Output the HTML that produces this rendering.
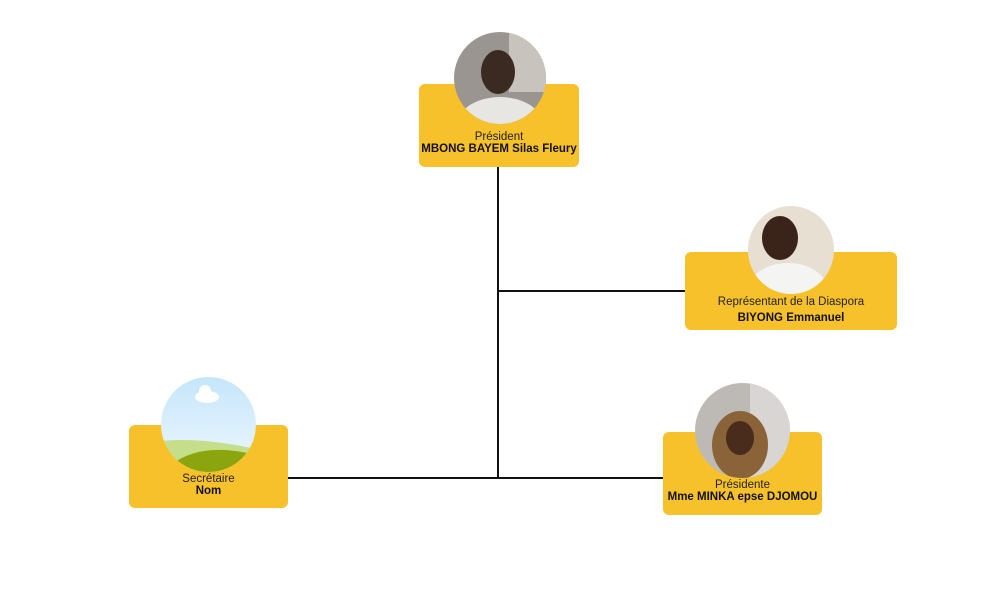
<!DOCTYPE html>
<html><head><meta charset="utf-8"><style>
html,body{margin:0;padding:0;background:#fff;width:1000px;height:600px;overflow:hidden;font-family:"Liberation Sans",sans-serif}
.box{position:absolute;background:#F7C12B;border-radius:6px}
.c{position:absolute;border-radius:50%;overflow:hidden}
.t{position:absolute;text-align:center;font-size:11.5px;color:#222;white-space:nowrap;line-height:12px}
.t b{color:#111}
.ln{position:absolute;background:#111}
</style></head><body>
<div class="ln" style="left:497px;top:167px;width:2px;height:312px"></div>
<div class="ln" style="left:498px;top:290px;width:187px;height:2px"></div>
<div class="ln" style="left:288px;top:477px;width:375px;height:2px"></div>

<div class="box" style="left:419px;top:84px;width:160px;height:83px"></div>
<div class="c" style="left:454px;top:32px;width:92px;height:92px">
<svg width="92" height="92"><rect width="92" height="92" fill="#9a9590"/><rect x="55" width="37" height="60" fill="#c9c3bd"/><ellipse cx="44" cy="40" rx="17" ry="22" fill="#3b2a22"/><ellipse cx="46" cy="95" rx="44" ry="30" fill="#e8e6e2"/></svg></div>
<div class="t" style="left:419px;top:131px;width:160px">Président<br><b>MBONG BAYEM Silas Fleury</b></div>

<div class="box" style="left:685px;top:252px;width:212px;height:78px"></div>
<div class="c" style="left:748px;top:206px;width:86px;height:88px">
<svg width="86" height="88"><rect width="86" height="88" fill="#e6dfd2"/><ellipse cx="32" cy="32" rx="18" ry="22" fill="#3a2419"/><ellipse cx="40" cy="85" rx="40" ry="28" fill="#f4f4f2"/></svg></div>
<div class="t" style="left:685px;top:296px;width:212px">Représentant de la Diaspora</div>
<div class="t" style="left:685px;top:312px;width:212px"><b>BIYONG Emmanuel</b></div>

<div class="box" style="left:663px;top:432px;width:159px;height:83px"></div>
<div class="c" style="left:695px;top:383px;width:95px;height:95px">
<svg width="95" height="95"><rect width="95" height="95" fill="#bdb9b5"/><rect x="55" width="40" height="95" fill="#d8d5d2"/><ellipse cx="45" cy="62" rx="28" ry="34" fill="#8a6438"/><ellipse cx="45" cy="55" rx="14" ry="17" fill="#4a2c1d"/></svg></div>
<div class="t" style="left:663px;top:479px;width:159px">Présidente<br><b>Mme MINKA epse DJOMOU</b></div>

<div class="box" style="left:129px;top:425px;width:159px;height:83px"></div>
<div class="c" style="left:161px;top:377px;width:95px;height:95px">
<svg width="95" height="95"><defs><linearGradient id="s" x1="0" y1="0" x2="0" y2="1"><stop offset="0" stop-color="#c5e6fb"/><stop offset="1" stop-color="#eef7fc"/></linearGradient></defs><rect width="95" height="95" fill="url(#s)"/><ellipse cx="46" cy="20" rx="12" ry="6" fill="#fff"/><circle cx="44" cy="14" r="6" fill="#fff"/><path d="M0 64 Q40 60 95 72 L95 95 L0 95Z" fill="#c5de8a"/><path d="M10 88 Q40 64 95 78 L95 95 L10 95Z" fill="#8aa50e"/></svg></div>
<div class="t" style="left:129px;top:473px;width:159px">Secrétaire<br><b>Nom</b></div>
</body></html>
